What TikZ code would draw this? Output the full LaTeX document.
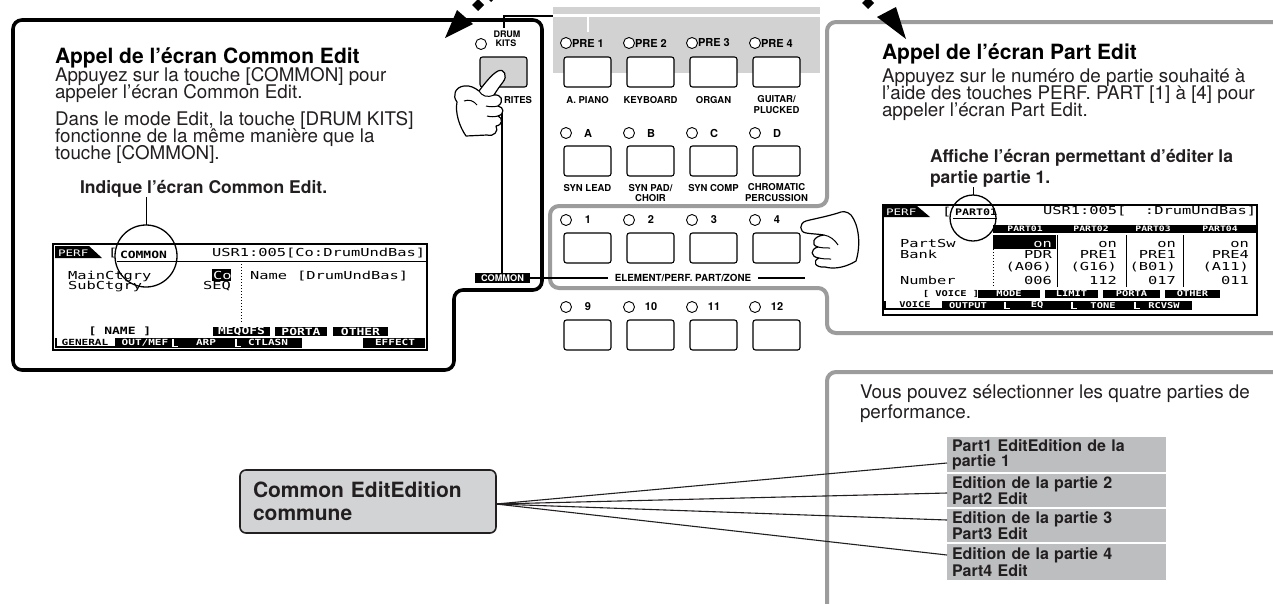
\documentclass[tikz,border=0pt]{standalone}
\usepackage{fontspec}
\setmainfont{TeX Gyre Heros}
\newfontfamily\lcdfont[FakeStretch=1.4]{DejaVu Sans Mono}
\newfontfamily\tabfont[FakeStretch=1.3]{DejaVu Sans Mono}
\definecolor{ink}{HTML}{231F20}
\definecolor{rim}{HTML}{9C9C9C}
\definecolor{band}{HTML}{D2D2D2}
\definecolor{partfill}{HTML}{BDBEC0}
\definecolor{commonfill}{HTML}{D1D3D4}
\tikzset{
  every node/.style={inner sep=0pt, outer sep=0pt},
  ttl/.style={font=\fontsize{21}{21}\selectfont\bfseries, anchor=base west},
  txt/.style={font=\fontsize{18.8}{17}\selectfont, anchor=base west, text=ink},
  txtb/.style={font=\fontsize{17.5}{17}\selectfont\bfseries, anchor=base west, text=ink},
  led/.style={circle, draw, line width=0.9pt, fill=white, minimum size=11pt},
  keybox/.style={draw, line width=1.1pt, rounded corners=2.5pt, fill=white, minimum width=47pt, minimum height=30pt, anchor=north west},
  keylbl/.style={font=\fontsize{9.5}{9.5}\selectfont\bfseries},
  keytop/.style={font=\fontsize{11}{11}\selectfont\bfseries},
  lcd/.style={font=\fontsize{11}{11}\lcdfont, anchor=base west},
  lcdr/.style={font=\fontsize{11}{11}\lcdfont, anchor=base east},
  tabL/.style={font=\fontsize{10}{10}\tabfont\bfseries},
  tabS/.style={font=\fontsize{8.5}{8.5}\tabfont\bfseries},
  tabR/.style={font=\fontsize{8}{8}\tabfont\bfseries},
  tabblk/.style={fill=black, text=white, minimum height=9pt},
  rimline/.style={draw=rim, line width=4pt, rounded corners=9pt},
  hand/.style={draw, fill=white, line width=1.2pt, line join=round},
  partbox/.style={fill=partfill, text=ink, font=\fontsize{16}{15}\selectfont\bfseries, align=left, anchor=north west, text width=209pt, inner xsep=5pt},
  link/.style={draw=ink, line width=1.1pt},
}
\begin{document}
\begin{tikzpicture}[x=1pt,y=-1pt]
\useasboundingbox (0,0) rectangle (1273,603);
\fill[white] (0,0) rectangle (1273,603);

% ---- grey strip behind the PRE keys, with its white bracket
\fill[band] (553,7) rectangle (820,73);
\draw[white, line width=2.5pt] (553,15.5) -- (820,15.5);
\draw[white, line width=2.5pt] (588,15.5) -- (588,32);

% ---- outlines
\draw[line width=3.6pt, rounded corners=9pt] (13,20) -- (542,20) -- (542,290) -- (454,290) -- (454,370) -- (13,370) -- cycle;
\draw[rimline] (1290,22) -- (827,22) -- (827,206) -- (550,206) -- (550,288) -- (827,288) -- (827,333) -- (1290,333);
\draw[rimline] (827,610) -- (827,372) -- (1290,372);

% ---- key panel
\foreach \c/\x in {1/564,2/627,3/690,4/753}{
  \node[keybox] (ka\c) at (\x,57) {};
  \node[keybox] (kb\c) at (\x,146) {};
  \node[keybox] (kc\c) at (\x,233) {};
  \node[keybox] (kd\c) at (\x,320) {};
  \node[led] (la\c) at (\x+2,43) {};
  \node[led] (lb\c) at (\x+2,133) {};
  \node[led] (lc\c) at (\x+2,220) {};
  \node[led] (ld\c) at (\x+2,307) {};
}
\foreach \c/\x/\t in {1/564/PRE 1,2/627/PRE 2,3/690/PRE 3,4/753/PRE 4}{
  \node[keytop, anchor=west] (ta\c) at (\x+8,43) {\t};
}
\foreach \c/\x/\t in {1/564/A,2/627/B,3/690/C,4/753/D}{
  \node[keytop] (tb\c) at (\x+24,133) {\t};
}
\foreach \c/\x/\t in {1/564/1,2/627/2,3/690/3,4/753/4}{
  \node[keytop] (tc\c) at (\x+24,220) {\t};
}
\foreach \c/\x/\t in {1/564/9,2/627/10,3/690/11,4/753/12}{
  \node[keytop] (td\c) at (\x+24,307) {\t};
}
\node[keylbl] (na1) at (587.5,100) {A. PIANO};
\node[keylbl] (na2) at (650.5,100) {KEYBOARD};
\node[keylbl] (na3) at (713.5,100) {ORGAN};
\node[keylbl] (na4) at (776.5,99) {GUITAR/};
\node[keylbl] (na4b) at (776.5,110) {PLUCKED};
\node[keylbl] (nb1) at (587.5,188) {SYN LEAD};
\node[keylbl] (nb2) at (650.5,188) {SYN PAD/};
\node[keylbl] (nb2b) at (650.5,198.5) {CHOIR};
\node[keylbl] (nb3) at (713.5,188) {SYN COMP};
\node[keylbl] (nb4) at (776.5,187.5) {CHROMATIC};
\node[keylbl] (nb4b) at (776.5,198) {PERCUSSION};

% ---- DRUM KITS key
\node[led] (ldk) at (481,44) {};
\node[keylbl, font=\fontsize{9}{9}\selectfont\bfseries] (dk1) at (507,34) {DRUM};
\node[keylbl, font=\fontsize{9}{9}\selectfont\bfseries] (dk2) at (506,43.5) {KITS};
\node[keybox, fill=band] (fav) at (480,57) {};
\node[keylbl, anchor=east] (favl) at (532,100) {RITES};
\coordinate (bk) at (553,16);
\draw[line width=1.1pt] ([xshift=-3pt,yshift=3pt]dk1.north) |- (bk);

% ---- COMMON / ELEMENT labels
\node[fill=black, text=white, font=\fontsize{9.2}{9.2}\selectfont\bfseries, minimum width=55pt, minimum height=10.5pt] (cl) at (502.5,278) {COMMON};
\coordinate (fb) at (502,112);
\draw[line width=1.1pt] (fb) -- (fb |- cl.north);
\node[font=\fontsize{9.8}{9.8}\selectfont\bfseries, inner xsep=7pt] (el) at (683,278) {ELEMENT/PERF. PART/ZONE};
\coordinate (ee) at (805,278);
\draw[line width=1.1pt] (cl.east) -- (el.west) (el.east) -- (ee);

% ---- left explanation
\node[ttl] (lt) at (55,63) {Appel de l'écran Common Edit};
\node[txt] (l1) at (55,81) {Appuyez sur la touche [COMMON] pour};
\node[txt] (l2) at (55,98) {appeler l'écran Common Edit.};
\node[txt] (l3) at (55,125) {Dans le mode Edit, la touche [DRUM KITS]};
\node[txt] (l4) at (55,142) {fonctionne de la même manière que la};
\node[txt] (l5) at (55,159) {touche [COMMON].};
\node[txtb] (ind) at (80,193) {Indique l'écran Common Edit.};

% ---- right explanation
\node[ttl] (rt) at (882,59) {Appel de l'écran Part Edit};
\node[txt] (r1) at (882,82) {Appuyez sur le numéro de partie souhaité à};
\node[txt] (r2) at (882,99) {l'aide des touches PERF. PART [1] à [4] pour};
\node[txt] (r3) at (882,116) {appeler l'écran Part Edit.};
\node[txtb] (aff1) at (930,162) {Affiche l'écran permettant d'éditer la};
\node[txtb] (aff2) at (930,183) {partie partie 1.};

% ---- Common Edit display
\node[draw, line width=1.1pt, minimum width=374pt, minimum height=106pt, anchor=north west] (lcdL) at (53,244) {};
\fill (55,246) -- (89,246) -- (102,258) -- (55,258) -- cycle;
\node[font=\fontsize{9}{9}\lcdfont, text=white, anchor=base west] (lpf) at (58,256) {PERF};
\node[lcd] (lbr) at (108,256) {[};
\node[tabL, anchor=base west] (lcm) at (120,258) {COMMON};
\draw[line width=1pt] (117,261.5) -- (427,261.5);
\node[lcd] (lusr) at (212,256) {USR1:005[Co:DrumUndBas]};
\node[lcd] (lmc) at (68,279) {MainCtgry};
\node[lcd] (lsc) at (68,289) {SubCtgry};
\fill (212,269) rectangle (231,281);
\node[lcd, text=white] (lco) at (213,279) {Co};
\node[lcdr] (lseq) at (231,289) {SEQ};
\draw[line width=1pt, dotted] (241,264) -- (241,322);
\node[lcd] (lnm) at (250,279) {Name};
\node[lcd] (ldr) at (297,279) {[DrumUndBas]};
\node[tabL] (lnam) at (120,331.5) {[ NAME ]};
\node[tabL, tabblk, minimum width=57pt] (lmq) at (241.5,331.5) {MEQOFS};
\node[tabL, tabblk, minimum width=52pt] (lpo) at (301,331.5) {PORTA};
\node[tabL, tabblk, minimum width=55pt] (lot) at (360.5,331.5) {OTHER};
\draw[line width=1.2pt] (56,338) -- (56,347) -- (115,347);
\node[tabS] (lgen) at (85,342) {GENERAL};
\fill (115,338) rectangle (302,347.5);
\fill (363,338) rectangle (425,347.5);
\draw[white, line width=1.3pt] (173,339) -- (173,346.5) -- (178,346.5);
\draw[white, line width=1.3pt] (236,339) -- (236,346.5) -- (241,346.5);
\node[tabS, text=white] (lout) at (145,342.5) {OUT/MEF};
\node[tabS, text=white] (larp) at (206,342.5) {ARP};
\node[tabS, text=white] (lctl) at (268,342.5) {CTLASN};
\node[tabS, text=white] (leff) at (395,342.5) {EFFECT};
\node[circle, draw, line width=1.3pt, minimum size=62pt] (cL) at (146,256) {};
\draw[line width=1pt] (cL.north) -- (cL.north |- ind.south);

% ---- Part Edit display
\node[draw, line width=1.1pt, minimum width=374pt, minimum height=110pt, anchor=north west] (lcdR) at (883,205) {};
\fill (884,206) -- (917,206) -- (930,217) -- (884,217) -- cycle;
\node[font=\fontsize{9}{9}\lcdfont, text=white, anchor=base west] (rpf) at (886,215) {PERF};
\node[lcd] (rbr) at (942,215) {[};
\node[font=\fontsize{9}{9}\tabfont\bfseries, anchor=base west] (rpt) at (955,215) {PART01};
\draw[line width=1pt] (953,218.5) -- (997,218.5);
\node[lcd] (rusr) at (1043,214) {USR1:005[\ \ :DrumUndBas]};
\fill (993,225) rectangle (1256,233);
\foreach \c/\x in {1/1025,2/1091,3/1153,4/1220}{
  \node[font=\fontsize{7.5}{7.5}\tabfont\bfseries, text=white] (rh\c) at (\x,229) {PART0\c};
}
\fill (993,235) rectangle (1056,249);
\node[lcd] (rps) at (900,247) {PartSw};
\node[lcd] (rbk) at (900,258) {Bank};
\node[lcd] (rnb) at (900,284) {Number};
\node[lcdr, text=white] (v11) at (1052,247) {on};
\node[lcdr] (v12) at (1052,258) {PDR};
\node[lcdr] (v13) at (1052,270) {(A06)};
\node[lcdr] (v14) at (1052,284) {006};
\node[lcdr] (v21) at (1117,247) {on};
\node[lcdr] (v22) at (1117,258) {PRE1};
\node[lcdr] (v23) at (1117,270) {(G16)};
\node[lcdr] (v24) at (1117,284) {112};
\node[lcdr] (v31) at (1176,247) {on};
\node[lcdr] (v32) at (1176,258) {PRE1};
\node[lcdr] (v33) at (1176,270) {(B01)};
\node[lcdr] (v34) at (1176,284) {017};
\node[lcdr] (v41) at (1249,247) {on};
\node[lcdr] (v42) at (1249,258) {PRE4};
\node[lcdr] (v43) at (1249,270) {(A11)};
\node[lcdr] (v44) at (1249,284) {011};
\draw[line width=1pt] (1057,235) -- (1057,287) (1126,235) -- (1126,287) (1183,235) -- (1183,287);
\draw[line width=1pt, dotted] (993,249) -- (993,287);
\node[tabR] (rvo) at (951,294) {[ VOICE ]};
\node[tabR, tabblk, minimum width=62pt, minimum height=8.5pt] (rmo) at (1009,294) {MODE};
\node[tabR, tabblk, minimum width=53pt, minimum height=8.5pt] (rli) at (1071.5,294) {LIMIT};
\node[tabR, tabblk, minimum width=57pt, minimum height=8.5pt] (rpo) at (1131.5,294) {PORTA};
\node[tabR, tabblk, minimum width=55pt, minimum height=8.5pt] (rot) at (1192.5,294) {OTHER};
\draw[line width=1.2pt] (885,301) -- (885,309) -- (942,309);
\node[tabR] (rvc) at (915,305) {VOICE};
\fill (942,301) rectangle (1192,309.5);
\draw[white, line width=1.3pt] (1005,302) -- (1005,308.5) -- (1010,308.5);
\draw[white, line width=1.3pt] (1072,302) -- (1072,308.5) -- (1077,308.5);
\draw[white, line width=1.3pt] (1135,302) -- (1135,308.5) -- (1140,308.5);
\node[tabR, text=white] (rout) at (968,305.5) {OUTPUT};
\node[tabR, text=white] (req) at (1037,305.5) {EQ};
\node[tabR, text=white] (rto) at (1103,305.5) {TONE};
\node[tabR, text=white] (rrc) at (1164,305.5) {RCVSW};
\node[circle, draw, line width=1.3pt, minimum size=46pt] (cR) at (973,218) {};
\draw[line width=1pt] (cR.north) -- (cR.north |- aff2.south);

% ---- part selection
\node[txt] (s1) at (860,398) {Vous pouvez sélectionner les quatre parties de};
\node[txt] (s2) at (860,418) {performance.};
\node[partbox, minimum height=35pt] (p1) at (947,437) {Part1 EditEdition de la\\partie 1};
\node[partbox, minimum height=33pt] (p2) at (947,474) {Edition de la partie 2\\Part2 Edit};
\node[partbox, minimum height=33pt] (p3) at (947,509) {Edition de la partie 3\\Part3 Edit};
\node[partbox, minimum height=36pt] (p4) at (947,544) {Edition de la partie 4\\Part4 Edit};
\node[draw=ink, line width=1.6pt, fill=commonfill, rounded corners=6pt, minimum width=256pt, minimum height=63pt, anchor=north west, text width=230pt, inner xsep=13pt, align=left, text=ink, font=\fontsize{21}{23}\selectfont\bfseries] (ce) at (240,470) {Common EditEdition\\commune};
\draw[link] ([yshift=-2.5pt]ce.east) -- ([yshift=-8.5pt]p1.west);
\draw[link] ([yshift=-2.5pt]ce.east) -- ([yshift=-2.5pt]p2.west);
\draw[link] ([yshift=-2.5pt]ce.east) -- ([yshift=5.5pt]p3.west);
\draw[link] ([yshift=-2.5pt]ce.east) -- ([yshift=7pt]p4.west);

% ---- pointing hands
\draw[hand] (466,136) .. controls (459,126) and (455,112) .. (457,102)
  .. controls (452,96) and (455,87) .. (464,86)
  .. controls (470,85) and (475,88) .. (479,91)
  .. controls (485,83) and (492,74) .. (498,71)
  .. controls (504,68) and (508,76) .. (503,82)
  .. controls (500,86) and (497,90) .. (494,95)
  .. controls (501,94) and (505,101) .. (498,106)
  .. controls (504,107) and (505,114) .. (498,116)
  .. controls (503,118) and (503,125) .. (496,126)
  .. controls (499,131) and (494,137) .. (487,135) -- cycle;
\draw[line width=1pt] (479,91) .. controls (482,96) and (487,98) .. (494,95);
\draw[line width=1pt] (486,106) .. controls (490,107) and (494,107) .. (498,106);
\draw[line width=1pt] (487,116) .. controls (491,117) and (494,117) .. (498,116);
\draw[line width=1pt] (464,101) .. controls (469,99) and (474,101) .. (477,105);

\draw[hand] (838,213)
  .. controls (825,217) and (813,219) .. (806,221)
  .. controls (799,223) and (799,232) .. (806,233)
  .. controls (812,234) and (818,234) .. (824,235)
  .. controls (813,236) and (810,245) .. (818,247)
  .. controls (810,249) and (810,257) .. (819,258)
  .. controls (812,261) and (815,268) .. (825,267)
  .. controls (836,270) and (848,266) .. (856,261)
  .. controls (861,245) and (859,225) .. (851,215)
  .. controls (847,211) and (842,211) .. (838,213) -- cycle;
\draw[line width=1pt] (824,235) .. controls (830,236) and (835,240) .. (838,245);
\draw[line width=1pt] (818,247) .. controls (822,248) and (826,248) .. (830,248);
\draw[line width=1pt] (819,258) .. controls (823,259) and (827,259) .. (831,259);

% ---- dotted pointer arrows at the top
\fill (445,38) -- (457,10) -- (473,24) -- cycle;
\fill (472,5) -- (478,-1) -- (484,5) -- (478,11) -- cycle;
\fill (485,-4) -- (491,-10) -- (497,-4) -- (491,2) -- cycle;
\fill (906,39) -- (877,17) -- (896,7) -- cycle;
\fill (862,3) -- (868,-3) -- (874,3) -- (868,9) -- cycle;
\end{tikzpicture}
\end{document}
